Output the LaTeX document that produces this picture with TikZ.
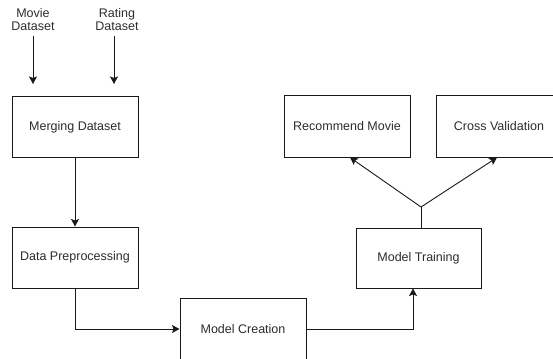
\documentclass[tikz,border=0pt]{standalone}
\usepackage{fontspec}
\setmainfont{Liberation Sans}
\usepackage{tikz}
\usetikzlibrary{arrows.meta,positioning}
\definecolor{line1}{RGB}{25,25,25}
\definecolor{text1}{RGB}{45,45,45}

\begin{document}
\begin{tikzpicture}[
    x=1pt, y=-1pt,
    step box/.style={draw=line1, line width=1pt, fill=white, text=text1, font=\fontsize{12.5}{13}\selectfont, inner sep=0pt, minimum width=126pt, minimum height=61pt},
    source/.style={text=text1, font=\fontsize{12.5}{13}\selectfont, align=center, inner sep=0pt},
    flowarrow/.style={-{Stealth[length=7.5pt,width=8pt,inset=1.5pt]}, line width=0.9pt, draw=line1},
    flowline/.style={line width=0.9pt, draw=line1}
]
        \useasboundingbox (0,0) rectangle (553,358);
        \clip (0,0) rectangle (553,358);

        \node[source, name=movie] at(33,20) {Movie\\Dataset};
        \node[source, name=rating] at(117,20) {Rating\\Dataset};

        \node[step box, name=merge] at(75,127) {Merging Dataset};
        \node[step box, name=prep] at(75,257.5) {Data Preprocessing};
        \node[step box, name=create, minimum height=62pt] at(243,329) {Model Creation};
        \node[step box, name=train, minimum width=125pt, minimum height=60pt] at(418.5,258) {Model Training};
        \node[step box, name=recommend] at(347,126.5) {Recommend Movie};
        \node[step box, name=cross] at(499,126.5) {Cross Validation};

        \coordinate (movieEnd) at(33,84);
        \coordinate (ratingEnd) at(114,84);
        \coordinate (split) at(421,207);

        \draw[flowarrow] (movie.south |- 0,36) -- (movieEnd);
        \draw[flowarrow] (ratingEnd |- 0,36) -- (ratingEnd);

        \draw[flowarrow] (merge) -- (prep);
        \draw[flowarrow] (prep.south) |- (create.west);
        \draw[flowarrow] (create.east) -| ([xshift=-5.5pt]train.south);

        \draw[flowline] (split |- train.north) -- (split);
        \draw[flowarrow] (split) -- ([xshift=3pt]recommend.south);
        \draw[flowarrow] (split) -- ([xshift=-2pt]cross.south);

\end{tikzpicture}
\end{document}
